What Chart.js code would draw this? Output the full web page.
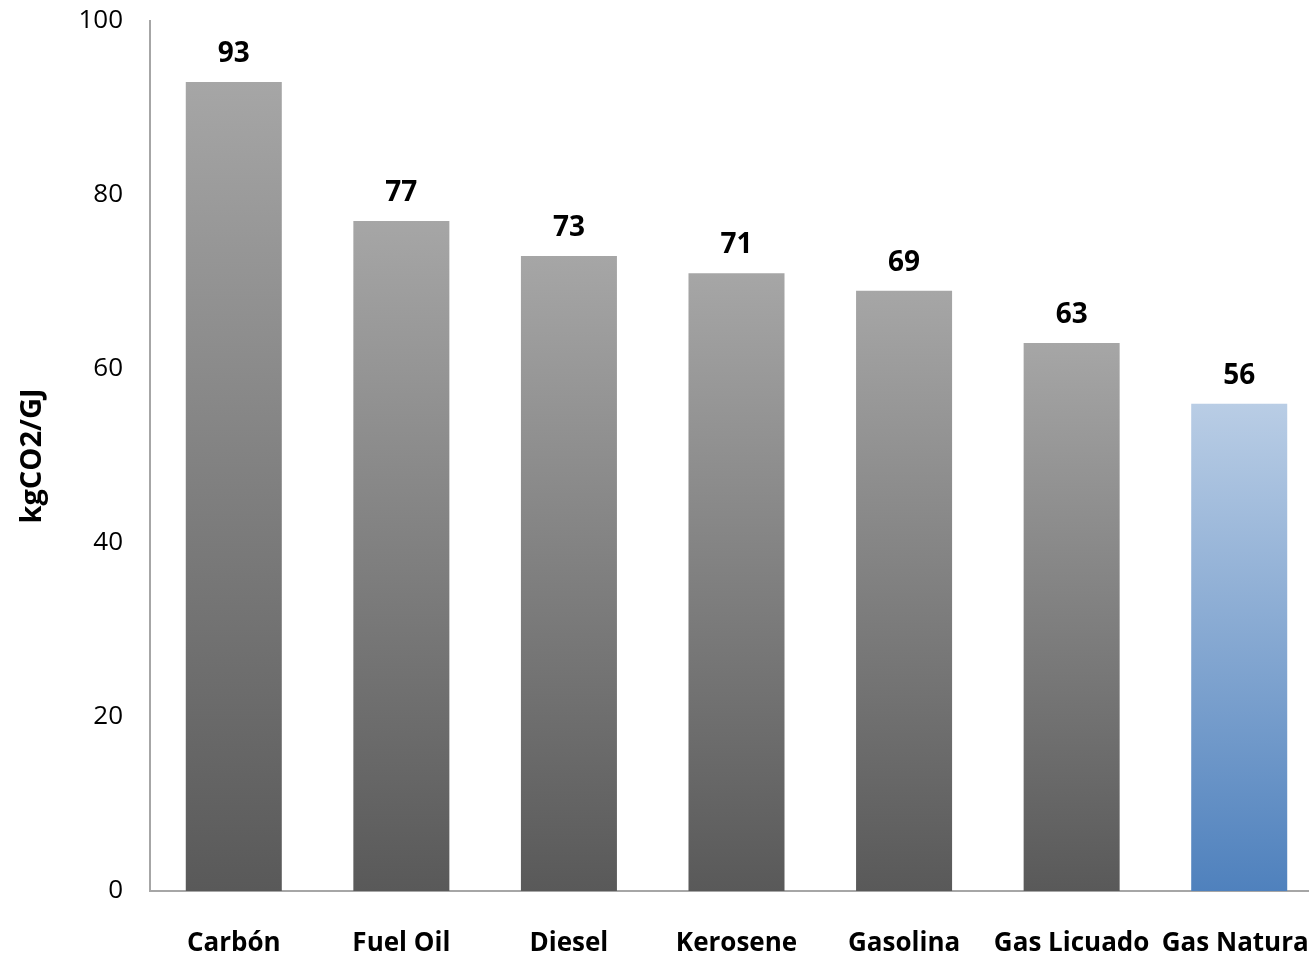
<!DOCTYPE html>
<html>
<head>
<meta charset="utf-8">
<script src="https://cdn.jsdelivr.net/npm/chart.js@4"></script>
<style>
  html, body { margin: 0; padding: 0; background: #fff; overflow: hidden; }
  /* the plot runs a little past the right edge of the window, as in the original */
  #wrap { width: 1323px; height: 958px; }
</style>
</head>
<body>
<div id="wrap"><canvas id="chart" width="1323" height="958"></canvas></div>
<script>
// Data
const categories = ['Carbón', 'Fuel Oil', 'Diesel', 'Kerosene', 'Gasolina', 'Gas Licuado', 'Gas Natural'];
const emissions = [93, 77, 73, 71, 69, 63, 56];
const yTicks = [0, 20, 40, 60, 80, 100];
const yTitle = 'kgCO2/GJ';

const FONT = '"Open Sans", Lato, sans-serif';

// gray bars fade light -> dark, the last one is blue
function barFill(context) {
    const chart = context.chart;
    if (!chart.chartArea) return '#808080';
    const y = chart.scales.y;
    const top = y.getPixelForValue(context.raw);
    const bottom = y.getPixelForValue(0);
    const g = chart.ctx.createLinearGradient(0, top, 0, bottom);
    if (context.dataIndex === categories.length - 1) {
        g.addColorStop(0, '#b9cde5');
        g.addColorStop(1, '#4f81bd');
    } else {
        g.addColorStop(0, '#a6a6a6');
        g.addColorStop(1, '#595959');
    }
    return g;
}

// value labels above the bars
const valueLabels = {
    id: 'valueLabels',
    afterDatasetsDraw(chart) {
        const ctx = chart.ctx;
        const meta = chart.getDatasetMeta(0);
        ctx.save();
        ctx.font = 'bold 28px ' + FONT;
        ctx.fillStyle = '#000';
        ctx.textAlign = 'center';
        ctx.textBaseline = 'alphabetic';
        meta.data.forEach((bar, i) => {
            ctx.fillText(String(emissions[i]), bar.x, bar.y - 20);
        });
        ctx.restore();
    }
};

new Chart(document.getElementById('chart'), {
    type: 'bar',
    data: {
        labels: categories,
        datasets: [{
            data: emissions,
            backgroundColor: barFill,
            borderWidth: 0,
            categoryPercentage: 1,
            barPercentage: 0.573
        }]
    },
    options: {
        responsive: false,
        animation: false,
        layout: { padding: { top: 21, left: 0, right: 0, bottom: 0 } },
        plugins: {
            legend: { display: false },
            tooltip: { enabled: false }
        },
        scales: {
            x: {
                grid: { display: false, drawTicks: false },
                border: { display: true, color: '#a6a6a6', width: 2 },
                ticks: {
                    color: '#000',
                    font: { family: FONT, size: 26, weight: 'bold' },
                    padding: 37,
                    maxRotation: 0,
                    autoSkip: false
                },
                afterFit(scale) {
                    scale.height = 67;
                    scale.paddingLeft = 0;
                    scale.paddingRight = 0;
                }
            },
            y: {
                min: 0,
                max: 100,
                afterBuildTicks(scale) { scale.ticks = yTicks.map(v => ({ value: v })); },
                grid: { display: false, drawTicks: false },
                border: { display: true, color: '#a6a6a6', width: 2 },
                ticks: {
                    color: '#000',
                    font: { family: FONT, size: 26 },
                    padding: 27
                },
                title: {
                    display: true,
                    text: yTitle,
                    color: '#000',
                    font: { family: FONT, size: 29, weight: 'bold' },
                    padding: { top: 15, bottom: 0 }
                },
                afterFit(scale) {
                    scale.width = 150;
                    scale.paddingTop = 0;
                    scale.paddingBottom = 0;
                }
            }
        }
    },
    plugins: [valueLabels]
});
</script>
</body>
</html>
